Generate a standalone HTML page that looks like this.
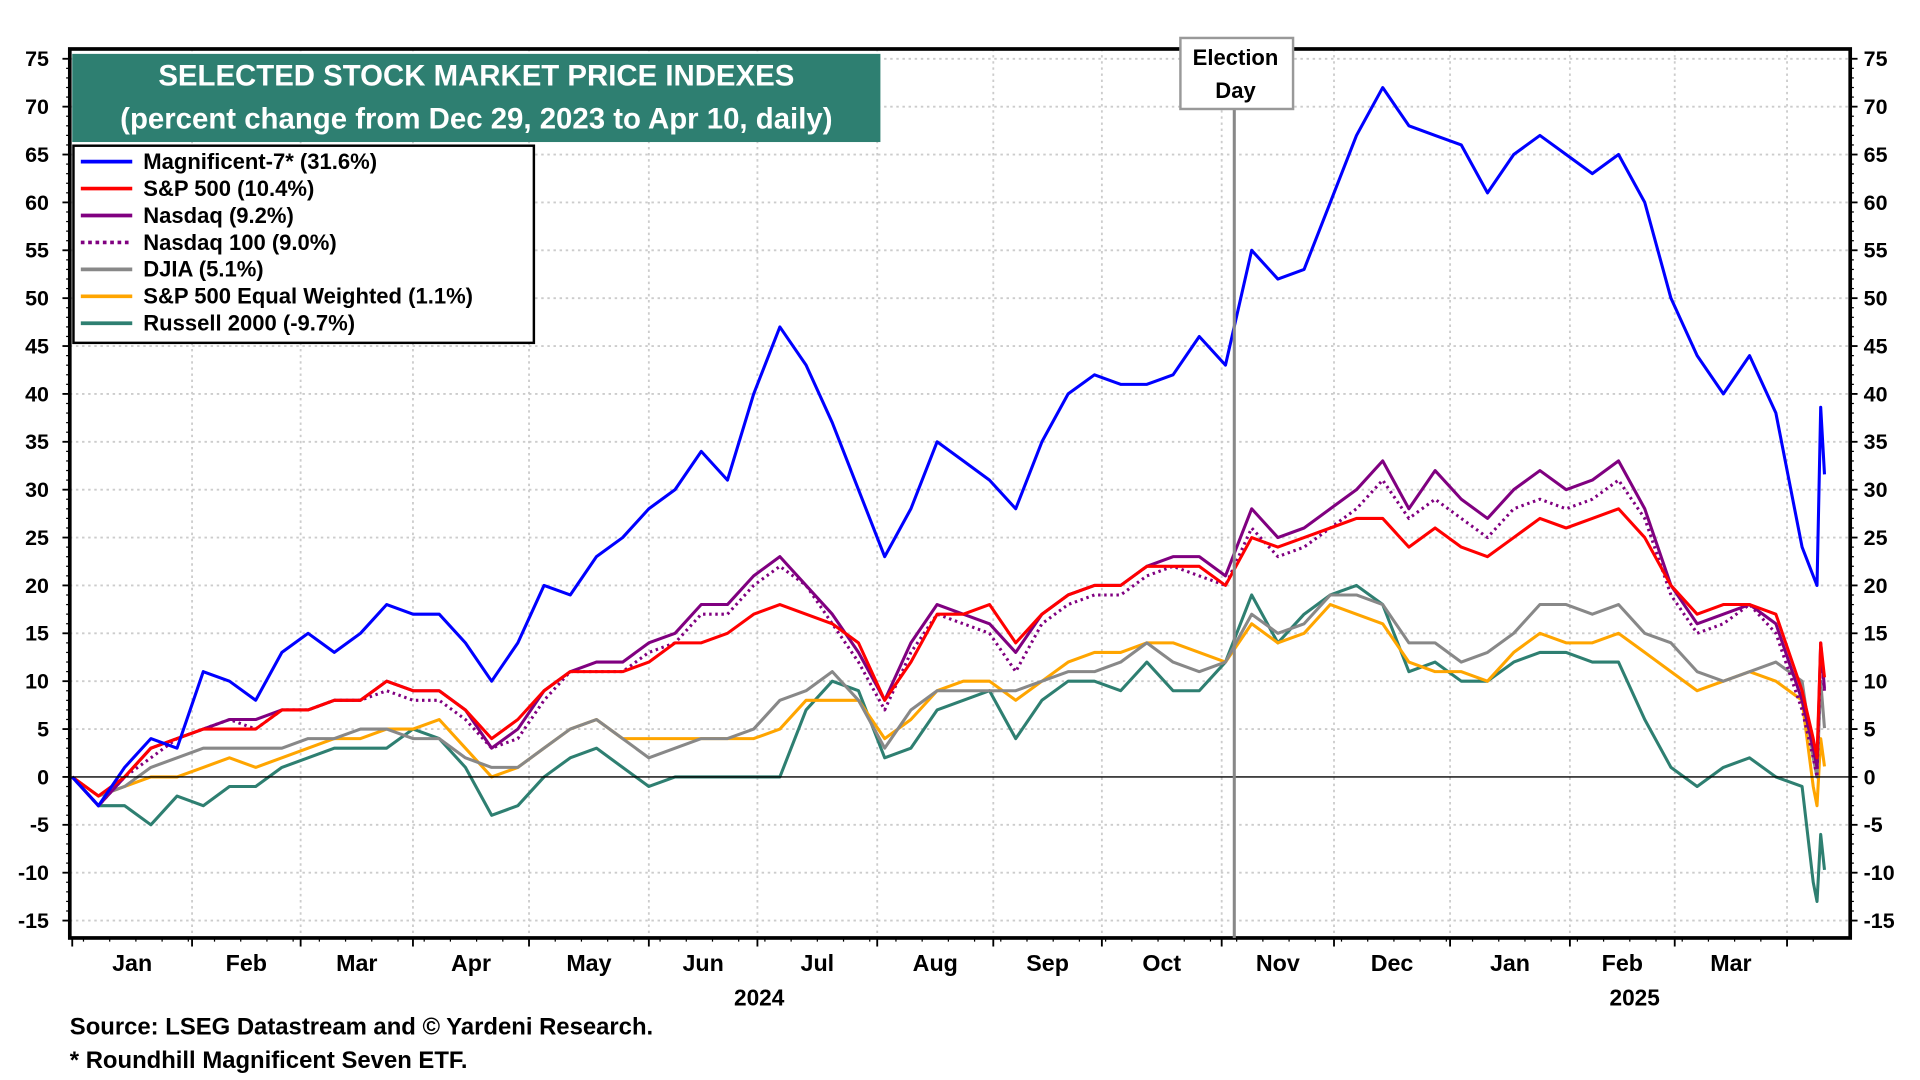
<!DOCTYPE html>
<html><head><meta charset="utf-8"><title>Selected Stock Market Price Indexes</title>
<style>
html,body{margin:0;padding:0;background:#fff;}
svg{display:block;font-family:"Liberation Sans",Arial,sans-serif;font-weight:bold;}
</style></head>
<body>
<svg id="chart" width="1920" height="1080" viewBox="0 0 1568 882" xmlns="http://www.w3.org/2000/svg">
<g id="grid"></g>
<g id="series"></g>
<g id="axes"></g>
<rect x="59" y="44" width="660" height="72" fill="#2E7F71"/>
<text x="389" y="70" text-anchor="middle" fill="#fff" font-size="24">SELECTED STOCK MARKET PRICE INDEXES</text>
<text x="389" y="105" text-anchor="middle" fill="#fff" font-size="24">(percent change from Dec 29, 2023 to Apr 10, daily)</text>
<g id="legend"></g>
<line x1="1008" y1="89" x2="1008" y2="766" stroke="#888" stroke-width="2.5"/>
<rect x="964" y="31" width="92" height="58" fill="#fff" stroke="#999" stroke-width="2"/>
<text x="1009" y="53" text-anchor="middle" font-size="18">Election</text>
<text x="1009" y="80" text-anchor="middle" font-size="18">Day</text>
<text x="57" y="845" font-size="19.5">Source: LSEG Datastream and © Yardeni Research.</text>
<text x="57" y="872" font-size="19.5">* Roundhill Magnificent Seven ETF.</text>
</svg>
<script>
// calendar day offsets from Dec 29, 2023 (weekly Fridays, then final April days)
const days = [];
for (let k = 0; k <= 66; k++) days.push(k * 7);
days.push(465, 466, 467, 468);

const mag7 = [0,-3,1,4,3,11,10,8,13,15,13,15,18,17,17,14,10,14,20,19,23,25,28,30,34,31,40,47,43,37,30,23,28,35,33,31,28,35,40,42,41,41,42,46,43,55,52,53,60,67,72,68,67,66,61,65,67,65,63,65,60,50,44,40,44,38,24,21,20,38.6,31.6];
const sp500 = [0,-2,0,3,4,5,5,5,7,7,8,8,10,9,9,7,4,6,9,11,11,11,12,14,14,15,17,18,17,16,14,8,12,17,17,18,14,17,19,20,20,22,22,22,20,25,24,25,26,27,27,24,26,24,23,25,27,26,27,28,25,20,17,18,18,17,9,4,2,14,10.4];
const nasdaq = [0,-3,0,3,4,5,6,6,7,7,8,8,10,9,9,7,3,5,9,11,12,12,14,15,18,18,21,23,20,17,13,8,14,18,17,16,13,17,19,20,20,22,23,23,21,28,25,26,28,30,33,28,32,29,27,30,32,30,31,33,28,20,16,17,18,16,8,3,1,14,9.2];
const nasdaq100 = [0,-3,0,2,4,5,6,5,7,7,8,8,9,8,8,6,3,4,8,11,11,11,13,14,17,17,20,22,20,16,12,7,13,17,16,15,11,16,18,19,19,21,22,21,20,26,23,24,26,28,31,27,29,27,25,28,29,28,29,31,27,19,15,16,18,15,7,2,0,13,9.0];
const djia = [0,-2,-1,1,2,3,3,3,3,4,4,5,5,4,4,2,1,1,3,5,6,4,2,3,4,4,5,8,9,11,8,3,7,9,9,9,9,10,11,11,12,14,12,11,12,17,15,16,19,19,18,14,14,12,13,15,18,18,17,18,15,14,11,10,11,12,10,2,0,10,5.1];
const spEqual = [0,-2,-1,0,0,1,2,1,2,3,4,4,5,5,6,3,0,1,3,5,6,4,4,4,4,4,4,5,8,8,8,4,6,9,10,10,8,10,12,13,13,14,14,13,12,16,14,15,18,17,16,12,11,11,10,13,15,14,14,15,13,11,9,10,11,10,8,-1,-3,4,1.1];
const russell = [0,-3,-3,-5,-2,-3,-1,-1,1,2,3,3,3,5,4,1,-4,-3,0,2,3,1,-1,0,0,0,0,0,7,10,9,2,3,7,8,9,4,8,10,10,9,12,9,9,12,19,14,17,19,20,18,11,12,10,10,12,13,13,12,12,6,1,-1,1,2,0,-1,-11,-13,-6,-9.7];

const yTicks = [75,70,65,60,55,50,45,40,35,30,25,20,15,10,5,0,-5,-10,-15];
const monthLabels = ["Jan","Feb","Mar","Apr","May","Jun","Jul","Aug","Sep","Oct","Nov","Dec","Jan","Feb","Mar"];
const monthStartDays = [0,32,61,91,122,154,183,215,246,275,307,337,368,400,428,458];
const seriesNames = ["Magnificent-7* (31.6%)","S&P 500 (10.4%)","Nasdaq (9.2%)","Nasdaq 100 (9.0%)","DJIA (5.1%)","S&P 500 Equal Weighted (1.1%)","Russell 2000 (-9.7%)"];

const NS = "http://www.w3.org/2000/svg";
const L = 57, R = 1511, T = 40, B = 766;
function xScale(d){ return 59 + d * (1490 - 59) / 468; }
function yScale(v){ return 634.5 - v * 39.1 / 5; }
function mk(tag, attrs, parent){ const e = document.createElementNS(NS, tag); for (const k in attrs) e.setAttribute(k, attrs[k]); parent.appendChild(e); return e; }

const grid = document.getElementById('grid');
const axes = document.getElementById('axes');
yTicks.forEach(v => {
  const y = yScale(v);
  if (v !== 0) {
    const g = mk('line', {x1:L, x2:R, y1:y, y2:y, stroke:'#ccc', 'stroke-width':1.5, 'stroke-dasharray':'2,3'}, grid);
    
    
  }
  const tl = mk('text', {x:40, y:y+6, 'text-anchor':'end', 'font-size':17.5}, axes);
  tl.textContent = v;
  
  
  const tr = mk('text', {x:1522, y:y+6, 'text-anchor':'start', 'font-size':17.5}, axes);
  tr.textContent = v;
  
  
  mk('line', {x1:L-6, x2:L, y1:y, y2:y, stroke:'#000', 'stroke-width':1.5}, axes);
  mk('line', {x1:R, x2:R+6, y1:y, y2:y, stroke:'#000', 'stroke-width':1.5}, axes);
  for (let m = 1; m < 5 && v > -15; m++) {
    mk('line', {x1:L-3, x2:L, y1:y + m*7.82, y2:y + m*7.82, stroke:'#000', 'stroke-width':1}, axes);
    mk('line', {x1:R, x2:R+3, y1:y + m*7.82, y2:y + m*7.82, stroke:'#000', 'stroke-width':1}, axes);
  }
});
monthStartDays.forEach((d, i) => {
  const x = xScale(d);
  if (i > 0) {
    const g = mk('line', {x1:x, x2:x, y1:T, y2:B, stroke:'#ccc', 'stroke-width':1.5, 'stroke-dasharray':'2,3'}, grid);
    
    
  }
  mk('line', {x1:x, x2:x, y1:B, y2:B+7, stroke:'#000', 'stroke-width':1.5}, axes);
  if (i < monthLabels.length) {
    const nx = xScale((d + monthStartDays[i+1]) / 2);
    const t = mk('text', {x:nx, y:793, 'text-anchor':'middle', 'font-size':19}, axes);
    t.textContent = monthLabels[i];
    
    
  }
});
for (let d = 3; d <= 468; d += 7) mk('line', {x1:xScale(d), x2:xScale(d), y1:B, y2:B+3, stroke:'#000', 'stroke-width':1}, axes);
const y1 = mk('text', {x:620, y:821, 'text-anchor':'middle', 'font-size':18.5}, axes);
y1.textContent = '2024';


const y2 = mk('text', {x:1335, y:821, 'text-anchor':'middle', 'font-size':18.5}, axes);
y2.textContent = '2025';


const zl = mk('line', {x1:L, x2:R, y1:yScale(0), y2:yScale(0), stroke:'#000', 'stroke-width':1.2}, axes);


const fr = mk('rect', {x:L, y:T, width:R-L, height:B-T, fill:'none', stroke:'#000', 'stroke-width':3}, axes);



const seriesData = [mag7, sp500, nasdaq, nasdaq100, djia, spEqual, russell];
const colors = ['#0000FF','#FF0000','#800080','#800080','#888888','#FFA500','#2E7F71'];
const dashes = [null,null,null,'2,3',null,null,null];
const keys = ['magnificent-7','sp-500','nasdaq','nasdaq-100','djia','sp-500-equal-weighted','russell-2000'];
const sg = document.getElementById('series');
const order = [6,5,4,3,2,1,0];
order.forEach(i => {
  const pts = seriesData[i].map((v, j) => xScale(days[j]).toFixed(1) + ',' + yScale(v).toFixed(1)).join(' ');
  const p = mk('polyline', {points:pts, fill:'none', stroke:colors[i], 'stroke-width':2.5, 'stroke-linejoin':'round'}, sg);
  if (dashes[i]) p.setAttribute('stroke-dasharray', dashes[i]);
  
  
});

const lg = document.getElementById('legend');
const lb = mk('rect', {x:60, y:119, width:376, height:161, fill:'#fff', stroke:'#000', 'stroke-width':2}, lg);


seriesNames.forEach((n, i) => {
  const y = 132 + i * 22;
  const ln = mk('line', {x1:66, x2:108, y1:y, y2:y, stroke:colors[i], 'stroke-width':3}, lg);
  if (dashes[i]) ln.setAttribute('stroke-dasharray', '3,3');
  
  
  const t = mk('text', {x:117, y:y+6, 'font-size':18}, lg);
  t.textContent = n;
  
  
});
</script>
</body></html>
